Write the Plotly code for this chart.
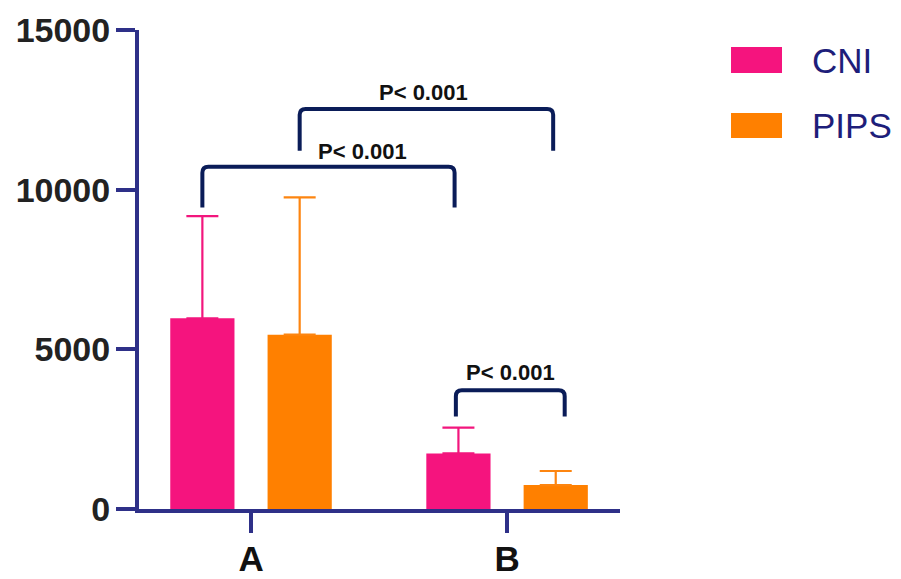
import plotly.graph_objects as go

# ---- data ----
categories = ["A", "B"]
series_names = ["CNI", "PIPS"]
cni_values = [5970, 1740]
cni_errors = [3200, 810]
pips_values = [5460, 750]
pips_errors = [4300, 440]
y_ticks = [0, 5000, 10000, 15000]
tick_labels = ["0", "5000", "10000", "15000"]

# significance brackets: (x_left, x_right, y_top, y_leg_left, y_leg_right, label, label_x, label_y)
brackets = [
    (-0.19, 0.795, 10720, 9440, 9440, "P< 0.001", 0.434, 11190),
    (0.19, 1.18, 12530, 11220, 11220, "P< 0.001", 0.672, 13030),
    (0.80, 1.225, 3720, 2900, 2900, "P< 0.001", 1.012, 4280),
]

colors = {"CNI": "#F5147E", "PIPS": "#FF8000"}
err_colors = {"CNI": "#F2167D", "PIPS": "#FD8510"}
axis_color = "#2E3088"
bracket_color = "#0A1C58"

x_pos = list(range(len(categories)))

fig = go.Figure()
for name, vals, errs in [("CNI", cni_values, cni_errors), ("PIPS", pips_values, pips_errors)]:
    fig.add_trace(go.Bar(
        x=x_pos, y=vals, name=name,
        marker=dict(color=colors[name], line=dict(width=0)),
        error_y=dict(type="data", array=errs, arrayminus=[0] * len(errs), symmetric=False,
                     color=err_colors[name], thickness=2.2, width=16),
        showlegend=False,
    ))

shapes = []
annotations = []
px_y = 1000 / 32.0  # data units per pixel (y)
px_x = 1 / 256.0     # data units per pixel (x)
r = 6
for x0, x1, yt, yl, yr, lab, lx, ly in brackets:
    ry = r * px_y
    rx = r * px_x
    path = (f"M {x0},{yl} L {x0},{yt - ry} Q {x0},{yt} {x0 + rx},{yt} "
            f"L {x1 - rx},{yt} Q {x1},{yt} {x1},{yt - ry} L {x1},{yr}")
    shapes.append(dict(type="path", path=path, xref="x", yref="y",
                       line=dict(color=bracket_color, width=4)))
    annotations.append(dict(x=lx, y=ly, xref="x", yref="y", text=lab,
                            showarrow=False,
                            font=dict(family="Arial", size=22, color="#111111", weight="bold")))

# custom legend (paper coords)
legend_rows = [(series_names[0], 0.9645, 0.9102), (series_names[1], 0.8267, 0.7745)]
for name, ytop, ybot in legend_rows:
    shapes.append(dict(type="rect", xref="paper", yref="paper", x0=1.2308, x1=1.3368,
                       y0=ybot, y1=ytop, fillcolor=colors[name], line=dict(width=0)))
    annotations.append(dict(x=1.395, y=(ytop + ybot) / 2, xref="paper", yref="paper",
                            text=name, showarrow=False, xanchor="left", yanchor="middle",
                            font=dict(family="Arial", size=35, color="#1E1E7A")))

fig.update_layout(
    width=901, height=579,
    margin=dict(l=131, r=289, t=22, b=78, autoexpand=False),
    paper_bgcolor="white", plot_bgcolor="white",
    barmode="group", bargap=0.24, bargroupgap=0.34,
    shapes=shapes, annotations=annotations,
    showlegend=False,
)
fig.update_xaxes(
    range=[-0.4375, 1.441], tickvals=x_pos, ticktext=categories,
    showline=True, linecolor=axis_color, linewidth=4,
    ticks="outside", ticklen=20, tickwidth=4, tickcolor=axis_color,
    showgrid=False, zeroline=False, automargin=False,
    tickfont=dict(family="Arial", size=35, color="#111111", weight="bold"),
    ticklabelstandoff=-4,
)
fig.update_yaxes(
    range=[0, 15000], tickvals=y_ticks, ticktext=tick_labels,
    showline=True, linecolor=axis_color, linewidth=4,
    ticks="outside", ticklen=19, tickwidth=4, tickcolor=axis_color,
    showgrid=False, zeroline=False, automargin=False,
    tickfont=dict(family="Arial", size=34, color="#222222", weight="bold"),
    ticklabelstandoff=-1,
)

fig.write_html("out.html")
